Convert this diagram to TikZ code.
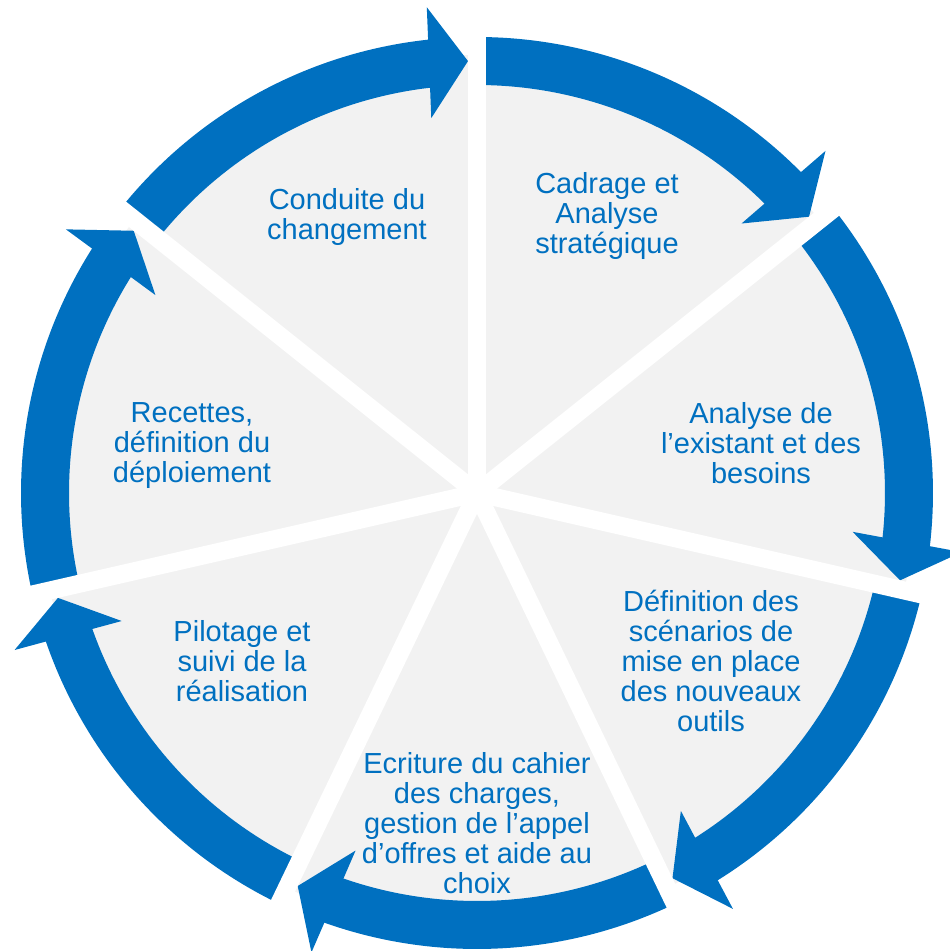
\documentclass[tikz,border=0pt]{standalone}
\usepackage{fontspec}
\setmainfont{Liberation Sans}
\usetikzlibrary{calc}
\definecolor{cblue}{HTML}{0070C0}
\definecolor{cgray}{HTML}{F2F2F2}
\begin{document}
\begin{tikzpicture}[x=1pt,y=1pt,
  lbl/.style={text=cblue, align=center, font=\fontsize{29}{30}\selectfont, inner sep=0pt},
  band/.style={fill=cblue},
  gap/.style={draw=white, line width=18pt}]
\useasboundingbox (-477,-458) rectangle (473,493);
\fill[cgray] (0,0) circle[radius=438pt];
\foreach \i in {0,...,6}{
  \pgfmathsetmacro{\a}{90-\i*360/7}
  \pgfmathsetmacro{\b}{\a-360/7}
  \pgfmathsetmacro{\e}{\b+5.5}
  \pgfmathsetmacro{\tb}{\b+6.36}
  \fill[band] (\a:456pt) arc[start angle=\a, end angle=\e, radius=456pt] -- (\e:408pt) arc[start angle=\e, end angle=\a, radius=408pt] -- cycle;
  \coordinate (T\i) at ($(\b:431.9pt)+(\b+90:9pt)$);
  \coordinate (B\i) at (\tb:433pt);
  \fill[band] (T\i) -- ($(B\i)!55.5pt!90:(T\i)$) -- ($(B\i)!55.5pt!-90:(T\i)$) -- cycle;
}
\foreach \i in {0,...,6}{
  \pgfmathsetmacro{\a}{90-\i*360/7}
  \coordinate (S\i) at (\a:520pt);
  \draw[gap] (0,0) -- (S\i);
}
\node[lbl] (n1) at (-130,275.5) {Conduite du\\changement};
\node[lbl] (n2) at (130,276.5) {Cadrage et\\Analyse\\stratégique};
\node[lbl] (n3) at (284,50) {Analyse de\\l’existant et des\\besoins};
\node[lbl] (n4) at (234,-168) {Définition des\\scénarios de\\mise en place\\des nouveaux\\outils};
\node[lbl] (n5) at (0,-330) {Ecriture du cahier\\des charges,\\gestion de l’appel\\d’offres et aide au\\choix};
\node[lbl] (n6) at (-235,-168) {Pilotage et\\suivi de la\\réalisation};
\node[lbl] (n7) at (-285,47) {Recettes,\\définition du\\déploiement};
\end{tikzpicture}
\end{document}
